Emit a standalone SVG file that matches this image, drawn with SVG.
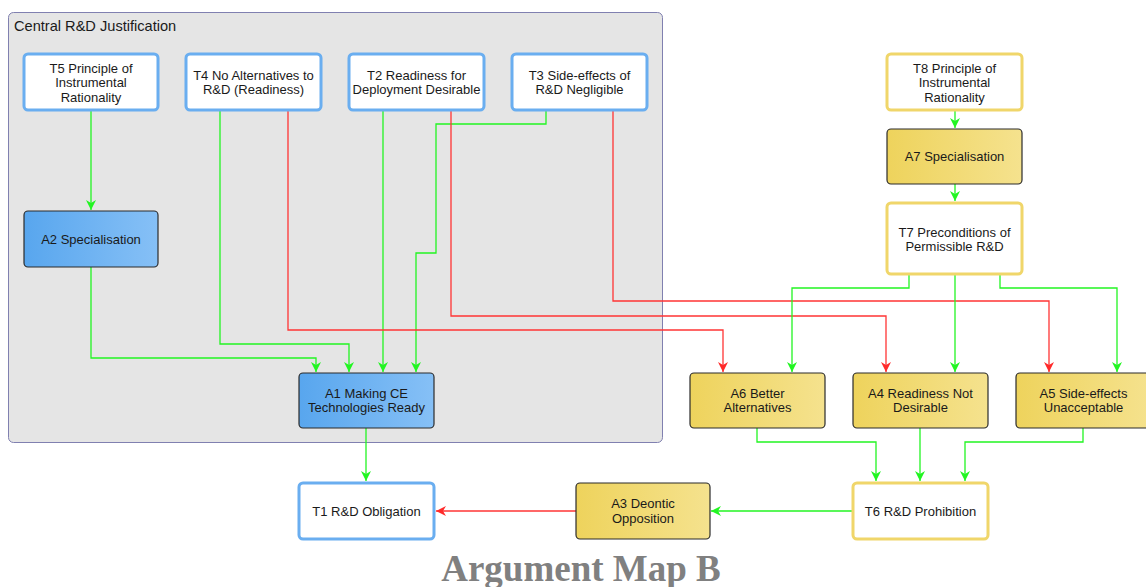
<svg xmlns="http://www.w3.org/2000/svg" width="1146" height="587" viewBox="0 0 1146 587">
<style>
.tb{fill:#ffffff;stroke:#6aaef0;stroke-width:3}
.ty{fill:#ffffff;stroke:#f0d66a;stroke-width:3}
.ab{fill:url(#gb);stroke:#2b2b2b;stroke-width:1.2}
.ay{fill:url(#gy);stroke:#2b2b2b;stroke-width:1.2}
text{font-family:"Liberation Sans",Arial,sans-serif;font-size:13px;fill:#1a1a1a;text-anchor:middle}
.g{fill:none;stroke:#22f522;stroke-width:1.3}
.r{fill:none;stroke:#ff3535;stroke-width:1.3}
</style>
<defs>
<linearGradient id="gb" x1="0" y1="0" x2="1" y2="0"><stop offset="0" stop-color="#58a6ee"/><stop offset="1" stop-color="#86c0f6"/></linearGradient>
<linearGradient id="gy" x1="0" y1="0" x2="1" y2="0"><stop offset="0" stop-color="#eed35c"/><stop offset="1" stop-color="#f5e28e"/></linearGradient>
<marker id="mg" viewBox="0 0 10 12" markerWidth="10" markerHeight="12" refX="10" refY="6" orient="auto" markerUnits="userSpaceOnUse"><path d="M0,1 L10,6 L0,11 L3,6 Z" fill="#22f522"/></marker>
<marker id="mr" viewBox="0 0 10 12" markerWidth="10" markerHeight="12" refX="10" refY="6" orient="auto" markerUnits="userSpaceOnUse"><path d="M0,1 L10,6 L0,11 L3,6 Z" fill="#ff2a2a"/></marker>
</defs>
<rect width="1146" height="587" fill="#ffffff"/>
<g id="group-central">
<rect x="8.5" y="12.5" width="654" height="430" rx="5" fill="#e5e5e5" stroke="#8080b0" stroke-width="1"/>
<text x="14" y="30.5" style="text-anchor:start;font-size:14.6px">Central R&amp;D Justification</text>
</g>
<g id="connectors">
<path class="g" d="M91,110 V210" marker-end="url(#mg)"/>
<path class="g" d="M91,267 V358 H316 V372" marker-end="url(#mg)"/>
<path class="g" d="M220,110 V344 H349 V372" marker-end="url(#mg)"/>
<path class="g" d="M383,110 V372" marker-end="url(#mg)"/>
<path class="g" d="M546,110 V124 H436 V253 H416 V372" marker-end="url(#mg)"/>
<path class="r" d="M288,110 V330 H723 V372" marker-end="url(#mr)"/>
<path class="r" d="M451,110 V316 H886 V372" marker-end="url(#mr)"/>
<path class="r" d="M613,110 V301 H1049 V372" marker-end="url(#mr)"/>
<path class="g" d="M955,110 V128" marker-end="url(#mg)"/>
<path class="g" d="M955,184 V201" marker-end="url(#mg)"/>
<path class="g" d="M909,274 V288 H792 V372" marker-end="url(#mg)"/>
<path class="g" d="M955,274 V372" marker-end="url(#mg)"/>
<path class="g" d="M1000,274 V288 H1117 V372" marker-end="url(#mg)"/>
<path class="g" d="M757,428 V442 H876 V481" marker-end="url(#mg)"/>
<path class="g" d="M920,428 V481" marker-end="url(#mg)"/>
<path class="g" d="M1083,428 V442 H965 V481" marker-end="url(#mg)"/>
<path class="g" d="M852,511 H711" marker-end="url(#mg)"/>
<path class="r" d="M576,511 H436" marker-end="url(#mr)"/>
<path class="g" d="M366,428 V481" marker-end="url(#mg)"/>
</g>
<g id="T5"><rect class="tb" x="24" y="54" width="134" height="56" rx="4"/><text x="91" y="72.5">T5 Principle of</text><text x="91" y="87.2">Instrumental</text><text x="91" y="101.9">Rationality</text></g>
<g id="T4"><rect class="tb" x="186" y="54" width="135" height="56" rx="4"/><text x="253.5" y="79.5">T4 No Alternatives to</text><text x="253.5" y="94.2">R&amp;D (Readiness)</text></g>
<g id="T2"><rect class="tb" x="349" y="54" width="135" height="56" rx="4"/><text x="416.5" y="79.5">T2 Readiness for</text><text x="416.5" y="94.2">Deployment Desirable</text></g>
<g id="T3"><rect class="tb" x="512" y="54" width="135" height="56" rx="4"/><text x="579.5" y="79.5">T3 Side-effects of</text><text x="579.5" y="94.2">R&amp;D Negligible</text></g>
<g id="T8"><rect class="ty" x="887" y="54" width="135" height="56" rx="4"/><text x="954.5" y="72.5">T8 Principle of</text><text x="954.5" y="87.2">Instrumental</text><text x="954.5" y="101.9">Rationality</text></g>
<g id="A7"><rect class="ay" x="887" y="129" width="135" height="55" rx="4"/><text x="954.5" y="161">A7 Specialisation</text></g>
<g id="T7"><rect class="ty" x="887" y="203" width="135" height="71" rx="4"/><text x="954.5" y="236.5">T7 Preconditions of</text><text x="954.5" y="251.2">Permissible R&amp;D</text></g>
<g id="A2"><rect class="ab" x="24" y="211" width="134" height="56" rx="4"/><text x="91" y="243.5">A2 Specialisation</text></g>
<g id="A1"><rect class="ab" x="299" y="373" width="135" height="55" rx="4"/><text x="366.5" y="397.5">A1 Making CE</text><text x="366.5" y="412.2">Technologies Ready</text></g>
<g id="A6"><rect class="ay" x="690" y="373" width="135" height="55" rx="4"/><text x="757.5" y="397.5">A6 Better</text><text x="757.5" y="412.2">Alternatives</text></g>
<g id="A4"><rect class="ay" x="853" y="373" width="135" height="55" rx="4"/><text x="920.5" y="397.5">A4 Readiness Not</text><text x="920.5" y="412.2">Desirable</text></g>
<g id="A5"><rect class="ay" x="1016" y="373" width="135" height="55" rx="4"/><text x="1083.5" y="397.5">A5 Side-effects</text><text x="1083.5" y="412.2">Unacceptable</text></g>
<g id="T1"><rect class="tb" x="299" y="483" width="135" height="56" rx="4"/><text x="366.5" y="515.5">T1 R&amp;D Obligation</text></g>
<g id="A3"><rect class="ay" x="576" y="483" width="134" height="56" rx="4"/><text x="643" y="508">A3 Deontic</text><text x="643" y="522.7">Opposition</text></g>
<g id="T6"><rect class="ty" x="853" y="483" width="135" height="56" rx="4"/><text x="920.5" y="515.5">T6 R&amp;D Prohibition</text></g>
<text x="581" y="580.5" style="font-family:'Liberation Serif','Times New Roman',serif;font-weight:bold;font-size:37px;fill:#808080">Argument Map B</text>
</svg>
